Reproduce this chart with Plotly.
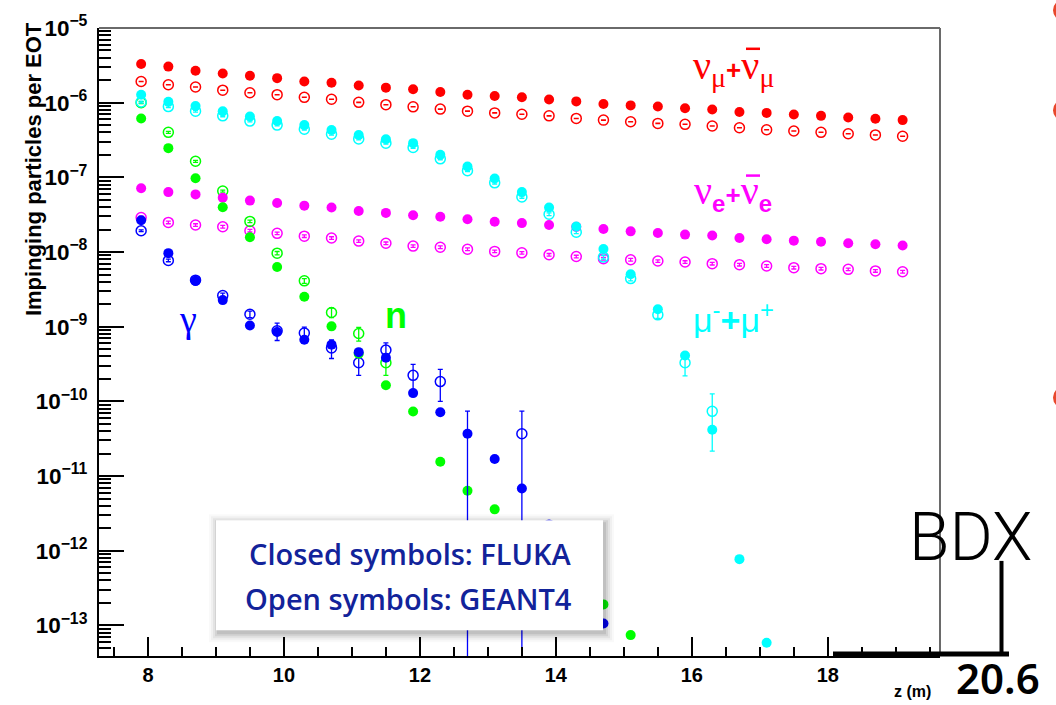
import plotly.graph_objects as go

# ---------------- data ----------------
z_m = [7.9, 8.3, 8.7, 9.1, 9.5, 9.9, 10.3, 10.7, 11.1, 11.5, 11.9, 12.3, 12.7, 13.1, 13.5,
       13.9, 14.3, 14.7, 15.1, 15.5, 15.9, 16.3, 16.7, 17.1, 17.5, 17.9, 18.3, 18.7, 19.1]

# nu_mu + anti-nu_mu
numu_fluka = [3.30e-6, 3.04e-6, 2.67e-6, 2.46e-6, 2.29e-6, 2.13e-6, 1.92e-6, 1.85e-6, 1.70e-6,
              1.59e-6, 1.51e-6, 1.39e-6, 1.28e-6, 1.23e-6, 1.18e-6, 1.10e-6, 1.04e-6, 9.6e-7,
              9.2e-7, 8.9e-7, 8.4e-7, 8.1e-7, 7.5e-7, 7.3e-7, 6.95e-7, 6.66e-7, 6.34e-7, 6.08e-7,
              5.84e-7]
numu_geant4 = [1.92e-6, 1.74e-6, 1.62e-6, 1.47e-6, 1.36e-6, 1.28e-6, 1.18e-6, 1.11e-6, 1.01e-6,
               9.4e-7, 8.8e-7, 8.2e-7, 7.7e-7, 7.3e-7, 7.0e-7, 6.66e-7, 6.15e-7, 5.84e-7, 5.55e-7,
               5.28e-7, 5.13e-7, 4.87e-7, 4.62e-7, 4.34e-7, 4.17e-7, 4.01e-7, 3.84e-7, 3.70e-7,
               3.55e-7]

# nu_e + anti-nu_e
nue_fluka = [7.16e-8, 6.34e-8, 5.91e-8, 5.35e-8, 4.88e-8, 4.53e-8, 4.18e-8, 3.94e-8, 3.55e-8,
             3.34e-8, 3.11e-8, 2.96e-8, 2.75e-8, 2.54e-8, 2.44e-8, 2.30e-8, 2.18e-8, 2.03e-8,
             1.89e-8, 1.80e-8, 1.71e-8, 1.66e-8, 1.54e-8, 1.48e-8, 1.42e-8, 1.37e-8, 1.31e-8,
             1.27e-8, 1.22e-8]
nue_geant4 = [2.90e-8, 2.49e-8, 2.30e-8, 2.18e-8, 1.93e-8, 1.78e-8, 1.63e-8, 1.54e-8, 1.40e-8,
              1.31e-8, 1.20e-8, 1.16e-8, 1.09e-8, 1.02e-8, 9.76e-9, 9.18e-9, 8.71e-9, 8.12e-9,
              7.88e-9, 7.57e-9, 7.35e-9, 6.98e-9, 6.77e-9, 6.50e-9, 6.17e-9, 5.98e-9, 5.86e-9,
              5.58e-9, 5.45e-9]

# mu- + mu+
mu_fluka = [1.28e-6, 1.03e-6, 9.04e-7, 7.69e-7, 6.54e-7, 5.67e-7, 5.01e-7, 4.30e-7, 3.70e-7,
            3.24e-7, 2.87e-7, 2.01e-7, 1.40e-7, 9.63e-8, 6.34e-8, 3.94e-8, 2.20e-8, 1.10e-8,
            5.03e-9, 1.71e-9, 4.11e-10, 4.16e-11, 7.71e-13, 5.86e-14, None, None, None, None, None]
mu_geant4 = [1.02e-6, 8.87e-7, 7.69e-7, 6.66e-7, 5.67e-7, 5.01e-7, 4.40e-7, 3.78e-7, 3.27e-7,
             2.87e-7, 2.51e-7, 1.77e-7, 1.23e-7, 8.45e-8, 5.45e-8, 3.21e-8, 1.84e-8, 8.55e-9,
             4.41e-9, 1.44e-9, 3.29e-10, 7.36e-11, None, None, None, None, None, None, None]
mu_geant4_err = [3e-8, 2.5e-8, 2e-8, 1.8e-8, 1.5e-8, 1.3e-8, 1.1e-8, 1e-8, 9e-9, 8e-9, 7e-9,
                 5e-9, 4e-9, 3e-9, 2e-9, 1.3e-9, 8e-10, 5e-10, 3e-10, 1.5e-10, 1.1e-10, 5.2e-11,
                 None, None, None, None, None, None, None]

# neutrons
n_fluka = [6.15e-7, 2.46e-7, 9.73e-8, 3.97e-8, 1.58e-8, 6.31e-9, 2.52e-9, 1.01e-9, 4.34e-10,
           1.64e-10, 7.3e-11, 1.55e-11, 6.34e-12, 3.58e-12, None, None, None, 1.91e-13, 7.41e-14,
           None, None, None, None, None, None, None, None, None, None]
n_geant4 = [1.00e-6, 4.01e-7, 1.64e-7, 6.55e-8, 2.57e-8, 9.66e-9, 4.11e-9, 1.55e-9, 8.1e-10,
            3.29e-10, None, None, None, None, None, None, None, None, None,
            None, None, None, None, None, None, None, None, None, None]
n_geant4_err = [3e-8, 1.2e-8, 5e-9, 2e-9, 1e-9, 5e-10, 3e-10, 2.3e-10, 1.7e-10, 1.06e-10,
                None, None, None, None, None, None, None, None, None,
                None, None, None, None, None, None, None, None, None, None]

# photons
gamma_fluka = [2.67e-8, 9.66e-9, 4.11e-9, 2.27e-9, 1.04e-9, 8.47e-10, 6.70e-10, 5.75e-10,
               4.56e-10, 3.84e-10, 1.29e-10, 7.14e-11, 3.68e-11, 1.69e-11, 6.81e-12, None, None,
               1.06e-13, None, None, None, None, None, None, None, None, None, None, None]
gamma_fluka_err = [None, None, None, None, None, None, None, None, None, None, None,
                   None, 3.7e-11, None, None, None, None, None, None, None, None, None,
                   None, None, None, None, None, None, None]
gamma_geant4 = [1.93e-8, 7.71e-9, 4.2e-9, 2.62e-9, 1.47e-9, 8.83e-10, 8.22e-10, 5.20e-10,
                3.29e-10, 4.86e-10, 2.23e-10, 1.84e-10, None, None, 3.68e-11, 2.2e-12, None,
                None, None, None, None, None, None, None, None, None, None, None, None]
gamma_geant4_err = [5e-10, 3e-10, 2e-10, 2e-10, 1.5e-10, 2.3e-10, 1.65e-10, 1.45e-10, 1.06e-10,
                    1.2e-10, 8.9e-11, 8.4e-11, None, None, 3.7e-11, None, None,
                    None, None, None, None, None, None, None, None, None, None, None, None]

# small statistical error of the neutrino GEANT4 samples (fraction of the value)
NUMU_G4_REL_ERR = 0.004
NUE_G4_REL_ERR = 0.04

x_ticks = [8, 10, 12, 14, 16, 18]

RED, MAGENTA, CYAN, GREEN, BLUE = "#ff0000", "#ff00ff", "#00ffff", "#00ff00", "#0000ff"

# plot frame in pixels
W, H = 1056, 705
L, R, T, B = 99, 940, 22, 656


def px(x):
    return (x - L) / (R - L)


def py(y):
    return (B - y) / (B - T)


fig = go.Figure()


def add_open(y, color, err=None):
    ey = None
    if err is not None:
        ey = dict(type="data", array=err, visible=True, color=color, thickness=1.3, width=2.5)
    fig.add_trace(go.Scatter(
        x=z_m, y=y, mode="markers",
        marker=dict(symbol="circle-open", size=10, color=color, line=dict(width=1.5, color=color)),
        error_y=ey, cliponaxis=True, hoverinfo="x+y"))


def add_closed(y, color, err=None):
    ey = None
    if err is not None:
        ey = dict(type="data", array=err, visible=True, color=color, thickness=1.3, width=2.5)
    fig.add_trace(go.Scatter(
        x=z_m, y=y, mode="markers",
        marker=dict(symbol="circle", size=10, color=color, line=dict(width=0)),
        error_y=ey, cliponaxis=True, hoverinfo="x+y"))


numu_g4_err = [v * NUMU_G4_REL_ERR for v in numu_geant4]
nue_g4_err = [v * NUE_G4_REL_ERR for v in nue_geant4]

# GEANT4 (open symbols)
add_open(numu_geant4, RED, numu_g4_err)
add_open(nue_geant4, MAGENTA, nue_g4_err)
add_open(n_geant4, GREEN, n_geant4_err)
add_open(gamma_geant4, BLUE, gamma_geant4_err)
add_open(mu_geant4, CYAN, mu_geant4_err)
# FLUKA (closed symbols)
add_closed(numu_fluka, RED)
add_closed(nue_fluka, MAGENTA)
add_closed(n_fluka, GREEN)
add_closed(gamma_fluka, BLUE, gamma_fluka_err)
add_closed(mu_fluka, CYAN)

shapes = []
# upper and right frame lines
shapes.append(dict(type="line", xref="paper", yref="paper", x0=0, x1=1, y0=1, y1=1,
                   line=dict(color="#6a6a6a", width=2), layer="above"))
shapes.append(dict(type="line", xref="paper", yref="paper", x0=1, x1=1, y0=0, y1=1,
                   line=dict(color="#6a6a6a", width=2), layer="above"))

# note box with soft shadow
bx0, bx1, by0, by1 = 216, 603, 519, 630
for grow, op in [(9, 0.025), (7, 0.035), (5, 0.05), (3, 0.07), (1, 0.09)]:
    shapes.append(dict(type="rect", xref="paper", yref="paper",
                       x0=px(bx0 - grow + 2), x1=px(bx1 + grow + 2),
                       y0=py(by1 + grow + 3), y1=py(by0 - grow + 3),
                       fillcolor=f"rgba(0,0,0,{op})", line=dict(width=0), layer="above"))
shapes.append(dict(type="rect", xref="paper", yref="paper",
                   x0=px(bx0), x1=px(bx1), y0=py(by1), y1=py(by0),
                   fillcolor="white", line=dict(width=0), layer="above"))

# bars over the antineutrino symbols
for bx_a, bx_b, by_, col in [(746, 760, 43, RED), (746, 760, 171, MAGENTA)]:
    shapes.append(dict(type="line", xref="paper", yref="paper", x0=px(bx_a), x1=px(bx_b),
                       y0=py(by_), y1=py(by_), line=dict(color=col, width=2.5), layer="above"))

# BDX position marker
shapes.append(dict(type="line", xref="paper", yref="paper", x0=px(833), x1=px(1009),
                   y0=py(654), y1=py(654), line=dict(color="black", width=5), layer="above"))
shapes.append(dict(type="line", xref="paper", yref="paper", x0=px(1001.5), x1=px(1001.5),
                   y0=py(560), y1=py(654), line=dict(color="black", width=4), layer="above"))

# bullets at the right edge
for cy in [4, 105, 395]:
    shapes.append(dict(type="circle", xref="paper", yref="paper",
                       x0=px(1053), x1=px(1075), y0=py(cy + 11), y1=py(cy - 11),
                       fillcolor="#e8472b", line=dict(width=0), layer="above"))

annotations = []


def note(x, y, text, size, color, family, weight="normal", xanchor="center"):
    annotations.append(dict(xref="paper", yref="paper", x=px(x), y=py(y), text=text,
                            showarrow=False, xanchor=xanchor, yanchor="middle",
                            font=dict(size=size, color=color, family=family, weight=weight)))


SANS_B = "font-family:Liberation Sans;font-weight:bold"

note(733, 62,
     f"ν<sub>μ</sub><span style='{SANS_B};font-size:26px'>+</span>ν<sub>μ</sub>",
     40, RED, "Liberation Serif")
note(733, 188,
     f"ν<sub><span style='{SANS_B};font-size:24px'>e</span></sub>"
     f"<span style='{SANS_B};font-size:26px'>+</span>ν"
     f"<sub><span style='{SANS_B};font-size:24px'>e</span></sub>",
     40, MAGENTA, "Liberation Serif")
note(188, 316, "γ", 38, BLUE, "Liberation Serif")
note(396, 312, "n", 36, GREEN, "Liberation Sans", "bold")
note(733, 314, f"μ<sup>-</sup><span style='{SANS_B}'>+</span>μ<sup>+</sup>", 34, CYAN,
     "Liberation Sans")

note(410, 553, "Closed symbols: FLUKA", 29, "#12239a", "Open Sans", 600)
note(408, 598, "Open symbols: GEANT4", 29, "#12239a", "Open Sans", 600)

# y axis title, aligned to the top of the axis
annotations.append(dict(xref="paper", yref="paper", x=px(33), y=py(14), text="Impinging particles per EOT",
                        textangle=-90, showarrow=False, xanchor="center", yanchor="top",
                        font=dict(size=22, color="black", family="Liberation Sans", weight="bold")))
note(912, 692, "z (m)", 16, "black", "Liberation Sans", "bold")
note(970, 536, "BDX", 66, "black", "Roboto", 300)
note(998, 678, "20.6", 42, "black", "Noto Sans", 600)

fig.update_layout(
    width=W, height=H,
    margin=dict(l=L, r=W - R, t=T, b=H - B),
    plot_bgcolor="white", paper_bgcolor="white",
    showlegend=False,
    shapes=shapes, annotations=annotations,
    xaxis=dict(range=[7.28, 19.65], showline=True, linecolor="black", linewidth=2,
               ticks="inside", ticklen=19, tickwidth=1.5, tickcolor="black",
               tickvals=x_ticks, ticktext=[str(v) for v in x_ticks],
               tickfont=dict(family="Liberation Sans", size=20, color="black", weight="bold"),
               showgrid=False, zeroline=False,
               minor=dict(dtick=0.5, tick0=0, ticks="inside", ticklen=9, tickwidth=1.5,
                          tickcolor="black", showgrid=False)),
    yaxis=dict(type="log", range=[-13.41, -5], showline=True, linecolor="black", linewidth=2,
               ticks="inside", ticklen=25, tickwidth=1.5, tickcolor="black",
               dtick=1, exponentformat="power", showexponent="all",
               tickfont=dict(family="Liberation Sans", size=18, color="black", weight="bold"),
               ticklabelstandoff=6,
               showgrid=False, zeroline=False,
               minor=dict(dtick="D1", ticks="inside", ticklen=12, tickwidth=1.5,
                          tickcolor="black", showgrid=False)),
)

fig.write_html("out.html")
